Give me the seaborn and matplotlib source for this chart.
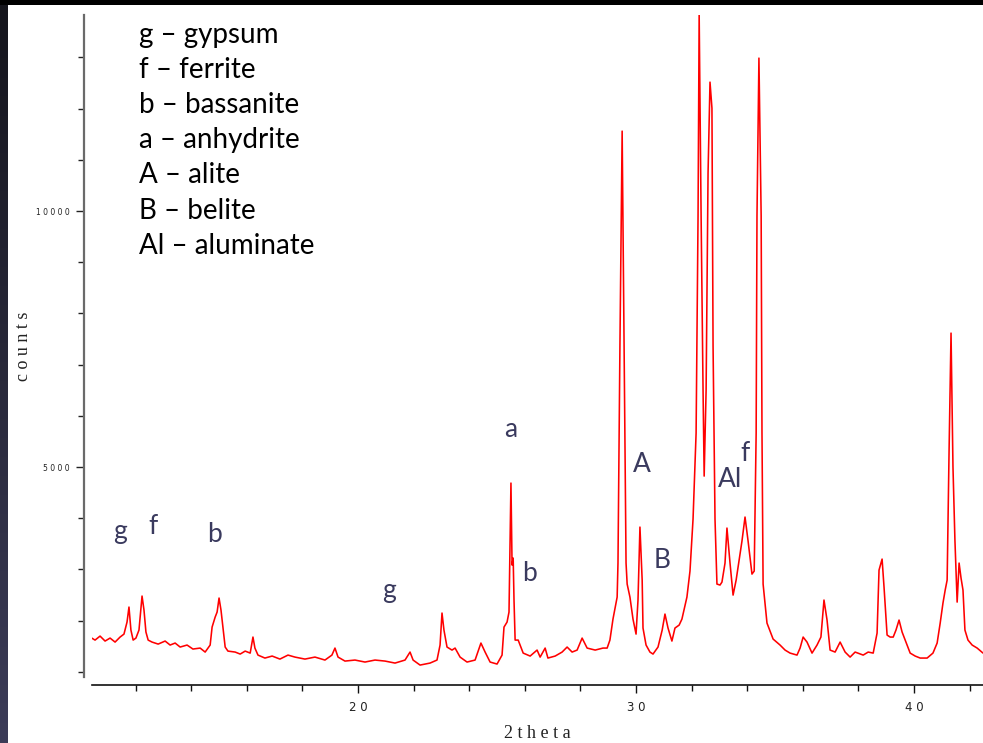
import numpy as np
import pandas as pd
import matplotlib
matplotlib.use("Agg")
import matplotlib.pyplot as plt
import seaborn as sns
from matplotlib.patches import Rectangle
from matplotlib.colors import LinearSegmentedColormap

# ---------------- data ----------------
two_theta = [
    10.36, 10.54, 10.72, 10.90, 11.08, 11.26, 11.44, 11.58, 11.69, 11.76, 11.83, 11.91,
    12.01, 12.12, 12.23, 12.30, 12.37, 12.45, 12.59, 12.81, 13.06, 13.24, 13.42, 13.60,
    13.85, 14.06, 14.32, 14.50, 14.68, 14.75, 14.86, 14.93, 15.00, 15.07, 15.14, 15.22,
    15.32, 15.58, 15.76, 15.94, 16.12, 16.22, 16.29, 16.40, 16.65, 16.91, 17.19, 17.48,
    17.73, 18.09, 18.45, 18.81, 19.06, 19.17, 19.28, 19.53, 19.89, 20.25, 20.61,
    20.97, 21.33, 21.69, 21.87, 21.98, 22.23, 22.59, 22.84, 22.95, 23.02, 23.09, 23.20,
    23.38, 23.49, 23.67, 23.92, 24.21, 24.42, 24.57, 24.75, 25.00, 25.18, 25.25, 25.36,
    25.43, 25.50, 25.54, 25.58, 25.61, 25.65, 25.76, 25.94, 26.19, 26.44, 26.55, 26.73,
    26.83, 27.09, 27.34, 27.52, 27.70, 27.88, 28.06, 28.24, 28.53, 28.81, 28.96, 29.06,
    29.17, 29.32, 29.35, 29.42, 29.50, 29.57, 29.64, 29.68, 29.78, 29.89, 30.00, 30.07,
    30.14, 30.22, 30.25, 30.36, 30.50, 30.61, 30.79, 30.94, 31.04, 31.15, 31.29, 31.40,
    31.55, 31.65, 31.83, 31.94, 32.05, 32.16, 32.23, 32.27, 32.34, 32.41, 32.45, 32.52,
    32.59, 32.66, 32.73, 32.77, 32.84, 32.91, 33.02, 33.09, 33.20, 33.27, 33.38, 33.49,
    33.60, 33.67, 33.81, 33.92, 34.03, 34.17, 34.25, 34.32, 34.35, 34.42, 34.50, 34.53,
    34.57, 34.71, 34.93, 35.18, 35.36, 35.54,
    35.79, 35.90, 36.01, 36.15, 36.33, 36.51, 36.65, 36.76, 36.87, 36.98, 37.16, 37.34,
    37.52, 37.70, 37.88, 38.17, 38.35, 38.53, 38.67, 38.74, 38.85, 38.92, 39.03, 39.14,
    39.25, 39.35, 39.46, 39.57, 39.68, 39.86, 40.04, 40.22, 40.47, 40.68, 40.83, 40.94,
    41.04, 41.12, 41.19, 41.26, 41.33, 41.40, 41.47, 41.55, 41.62, 41.69, 41.76, 41.83,
    41.94, 42.09, 42.27, 42.48,
]
counts = [
    1680, 1621, 1699, 1602, 1660, 1582, 1680, 1738, 1973, 2266, 1817, 1621,
    1660, 1817, 2481, 2207, 1778, 1621, 1582, 1543, 1602, 1524, 1563, 1485,
    1524, 1446, 1465, 1387, 1524, 1875, 2070, 2168, 2442, 2207, 1875, 1485,
    1406, 1387, 1348, 1406, 1367, 1680, 1465, 1328, 1270, 1309, 1250, 1328,
    1289, 1250, 1289, 1231, 1328, 1465, 1289, 1211, 1231, 1192, 1231,
    1211, 1172, 1231, 1387, 1231, 1133, 1172, 1231, 1524, 2149, 1817, 1485,
    1426, 1465, 1289, 1192, 1231, 1563, 1387, 1192, 1153, 1328, 1875, 1973,
    2168, 4688, 3086, 3223, 2403, 1621, 1621, 1367, 1309, 1426, 1289, 1465,
    1270, 1309, 1387, 1485, 1387, 1426, 1660, 1465, 1426, 1465, 1465, 1621,
    2031, 2461, 3125, 7363, 11562, 7363, 3125, 2715, 2461, 2031, 1738, 2403,
    3828, 2793, 1856, 1524, 1387, 1348, 1485, 1817, 2129, 1856, 1602, 1856,
    1914, 2031, 2461, 2969, 3984, 5664, 9902, 13847, 9902, 6504, 4824, 6504,
    10742, 12519, 12011, 7363, 3984, 2715, 2696, 2754, 3125, 3809, 3125, 2500,
    2793, 3047, 3555, 4024, 3555, 2910, 2969, 5664, 9902, 12988, 9902, 5664,
    2715, 1953, 1641, 1524, 1426, 1367,
    1328, 1465, 1680, 1582, 1367, 1524, 1680, 2403, 2012, 1426, 1387, 1582,
    1387, 1289, 1387, 1328, 1387, 1367, 1758, 2988, 3203, 2656, 1719, 1680,
    1680, 1817, 2012, 1778, 1621, 1367, 1309, 1270, 1270, 1367, 1563, 1953,
    2344, 2598, 2793, 5332, 7617, 5000, 3574, 2363, 3125, 2832, 2598, 1817,
    1621, 1524, 1465, 1367,
]

phase_codes = ["g", "f", "b", "a", "A", "B", "Al"]
phase_names = ["gypsum", "ferrite", "bassanite", "anhydrite", "alite", "belite", "aluminate"]

peak_labels = ["g", "f", "b", "g", "a", "b", "A", "B", "Al", "f"]
peak_label_x = [11.44, 12.63, 14.82, 21.12, 25.50, 26.15, 30.22, 30.94, 33.38, 33.92]
peak_label_y = [3594, 3691, 3535, 2442, 5586, 2774, 4902, 3027, 4609, 5117]

x_major = [20, 30, 40]
x_major_labels = ["2 0", "3 0", "4 0"]
y_major = [5000, 10000]
y_major_labels = ["5 0 0 0", "1 0 0 0 0"]

# ---------------- figure ----------------
sns.set_style("ticks")
W, H = 983, 743
fig = plt.figure(figsize=(W / 100, H / 100), dpi=100)
fig.patch.set_facecolor("white")

# slide decorations: dark strip on the left, black bar on top
strip = fig.add_axes([0, 0, 8 / W, 1])
grad = np.linspace(0, 1, 256).reshape(-1, 1)
cmap = LinearSegmentedColormap.from_list("strip", ["#15151c", "#3c3c58"])
strip.imshow(grad, aspect="auto", cmap=cmap, extent=[0, 1, 0, 1], origin="upper")
strip.axis("off")
fig.patches.append(Rectangle((0, 1 - 5 / H), 1, 5 / H, transform=fig.transFigure,
                             facecolor="black", edgecolor="none", zorder=10))

ax_left, ax_right, ax_top, ax_bottom = 92, 983, 15, 677
ax = fig.add_axes([ax_left / W, (H - ax_bottom) / H,
                   (ax_right - ax_left) / W, (ax_bottom - ax_top) / H])
ax.set_facecolor("white")

df = pd.DataFrame({"two_theta": two_theta, "counts": counts})
sns.lineplot(data=df, x="two_theta", y="counts", color="#ff0000", linewidth=1.15,
             estimator=None, sort=False, ax=ax)

ax.set_xlim(10.43, 42.48)
ax.set_ylim(900, 13830)

# offset spines
for side in ("top", "right"):
    ax.spines[side].set_visible(False)
ax.spines["left"].set_position(("outward", 5.8))
ax.spines["bottom"].set_position(("outward", 5.8))
ax.spines["left"].set_color("#6a6a6a")
ax.spines["left"].set_linewidth(1.6)
ax.spines["bottom"].set_color("#111111")
ax.spines["bottom"].set_linewidth(1.2)

ax.set_xticks(x_major)
ax.set_xticklabels(x_major_labels)
ax.set_xticks(np.arange(12, 43, 2), minor=True)
ax.set_yticks(y_major)
ax.set_yticklabels(y_major_labels)
ax.set_yticks(np.arange(1000, 13001, 1000), minor=True)

ax.tick_params(axis="x", which="major", length=5.8, width=1.0, color="#111111",
               labelsize=8.5, pad=5.5, labelcolor="#222222")
ax.tick_params(axis="x", which="minor", length=4.3, width=1.0, color="#111111")
ax.tick_params(axis="y", which="major", length=5.8, width=1.0, color="#222222",
               labelsize=5.5, pad=4.3, labelcolor="#222222")
ax.tick_params(axis="y", which="minor", length=4.3, width=1.0, color="#222222")

ax.set_xlabel("2 t h e t a", family="Liberation Serif", fontsize=13, color="#222222")
ax.xaxis.label.set_va("center")
ax.xaxis.set_label_coords(0.5, (ax_bottom - 733) / (ax_bottom - ax_top))
ax.set_ylabel("c o u n t s", family="Liberation Serif", fontsize=13, color="#222222")
ax.yaxis.label.set_va("center")
ax.yaxis.set_label_coords((24 - ax_left) / (ax_right - ax_left), 0.5)

# peak annotations
for s, px, py in zip(peak_labels, peak_label_x, peak_label_y):
    ax.text(px, py, s, ha="center", va="baseline", color="#3a3a5e",
            fontsize=19, family="Lato")

# phase key
baselines = [43, 78, 113, 148, 183, 219, 254]
for code, name, b in zip(phase_codes, phase_names, baselines):
    fig.text(139 / W, 1 - b / H, f"{code} \u2013 {name}", ha="left", va="baseline",
             color="black", fontsize=20, family="Lato")

fig.savefig("out.png", dpi=100, facecolor="white")
